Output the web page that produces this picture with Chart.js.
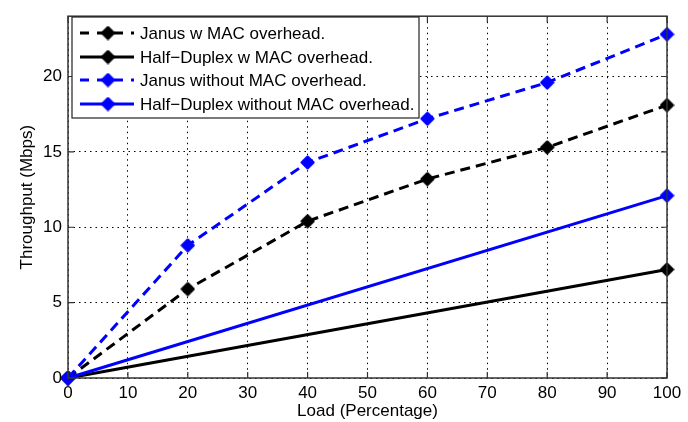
<!DOCTYPE html>
<html>
<head>
<meta charset="utf-8">
<script src="https://cdn.jsdelivr.net/npm/chart.js@4.4.1/dist/chart.umd.min.js"></script>
<style>
  html, body { margin: 0; padding: 0; background: #fff; }
  #wrap { width: 688px; height: 422px; position: relative; }
</style>
</head>
<body>
<div id="wrap"><canvas id="c"></canvas></div>
<script>
const FONT = "Arial, 'Liberation Sans', sans-serif";

// load values (%)
const loadJanus = [0, 20, 40, 60, 80, 100];
const loadHalf = [0, 100];

// throughput (Mbps)
const janusMac = [0, 5.9, 10.4, 13.2, 15.3, 18.1];
const halfMac = [0, 7.2];
const janusNoMac = [0, 8.8, 14.3, 17.2, 19.6, 22.8];
const halfNoMac = [0, 12.1];

const labels = [
  'Janus w MAC overhead.',
  'Half\u2212Duplex w MAC overhead.',
  'Janus without MAC overhead.',
  'Half\u2212Duplex without MAC overhead.',
];

const xTicks = [0, 10, 20, 30, 40, 50, 60, 70, 80, 90, 100];
const yTicks = [0, 5, 10, 15, 20];

const pts = (xs, ys) => xs.map((x, i) => ({ x, y: ys[i] }));

// blunt diamond marker like the matlab one
function marker(color) {
  const c = document.createElement('canvas');
  c.width = 15; c.height = 15;
  const g = c.getContext('2d');
  g.fillStyle = color;
  g.strokeStyle = color;
  g.lineWidth = 3;
  g.lineJoin = 'round';
  g.beginPath();
  g.moveTo(7.5, 2); g.lineTo(13, 7.5); g.lineTo(7.5, 13); g.lineTo(2, 7.5);
  g.closePath();
  g.fill();
  g.stroke();
  return c;
}

function series(label, data, color, dashed, order) {
  return {
    label,
    data,
    borderColor: color,
    backgroundColor: color,
    borderWidth: 3,
    borderDash: dashed ? [10, 6] : [],
    pointStyle: marker(color),
    pointRadius: 7,
    tension: 0,
    clip: false,
    order,
  };
}

// legend box + inward tick marks + frame
const frame = {
  id: 'frame',
  afterDraw(chart) {
    const { ctx, chartArea: a, scales } = chart;
    ctx.save();
    ctx.strokeStyle = '#333';
    ctx.lineWidth = 1.2;
    ctx.beginPath();
    for (const v of xTicks) {
      const px = scales.x.getPixelForValue(v);
      ctx.moveTo(px, a.bottom); ctx.lineTo(px, a.bottom - 6);
      ctx.moveTo(px, a.top); ctx.lineTo(px, a.top + 6);
    }
    for (const v of yTicks) {
      const py = scales.y.getPixelForValue(v);
      ctx.moveTo(a.left, py); ctx.lineTo(a.left + 6, py);
      ctx.moveTo(a.right, py); ctx.lineTo(a.right - 6, py);
    }
    ctx.stroke();
    ctx.lineWidth = 1.5;
    ctx.strokeRect(a.left, a.top, a.right - a.left, a.bottom - a.top);

    // legend
    const bx = 72, by = 17, bw = 347, bh = 101;
    ctx.fillStyle = '#fff';
    ctx.fillRect(bx, by, bw, bh);
    ctx.strokeStyle = '#222';
    ctx.lineWidth = 1.2;
    ctx.strokeRect(bx, by, bw, bh);
    const rows = [33, 57, 80, 104];
    ctx.font = '17px ' + FONT;
    ctx.textBaseline = 'middle';
    chart.data.datasets.forEach((ds, i) => {
      const y = rows[i];
      ctx.strokeStyle = ds.borderColor;
      ctx.lineWidth = ds.borderWidth;
      ctx.setLineDash(ds.borderDash.length ? [9, 8] : []);
      ctx.beginPath();
      ctx.moveTo(80, y); ctx.lineTo(134, y);
      ctx.stroke();
      ctx.setLineDash([]);
      const img = ds.pointStyle;
      ctx.drawImage(img, 108 - img.width / 2, y - img.height / 2);
      ctx.fillStyle = '#000';
      ctx.fillText(ds.label, 140, y + 1);
    });
    ctx.restore();
  },
};

const gridStyle = {
  color: '#000',
  lineWidth: 1,
  drawTicks: false,
};

new Chart(document.getElementById('c'), {
  type: 'line',
  data: {
    datasets: [
      series(labels[0], pts(loadJanus, janusMac), '#000', true, 1),
      series(labels[1], pts(loadHalf, halfMac), '#000', false, 1),
      series(labels[2], pts(loadJanus, janusNoMac), '#0000ff', true, 0),
      series(labels[3], pts(loadHalf, halfNoMac), '#0000ff', false, 0),
    ],
  },
  options: {
    responsive: true,
    maintainAspectRatio: false,
    animation: false,
    layout: { padding: { top: 10, right: 21, left: 0, bottom: 0 } },
    plugins: { legend: { display: false }, tooltip: { enabled: false } },
    scales: {
      x: {
        type: 'linear',
        min: 0,
        max: 100,
        afterBuildTicks: (s) => { s.ticks = xTicks.map((v) => ({ value: v })); },
        afterFit: (s) => { s.height = 44; },
        grid: gridStyle,
        border: { display: false, dash: [1.5, 4] },
        ticks: { color: '#000', padding: 5, maxRotation: 0, font: { family: FONT, size: 17 } },
        title: {
          display: true, text: 'Load (Percentage)', color: '#000',
          font: { family: FONT, size: 17 }, padding: { top: 0, bottom: 0 },
        },
      },
      y: {
        min: 0,
        max: 24,
        afterBuildTicks: (s) => { s.ticks = yTicks.map((v) => ({ value: v })); },
        afterFit: (s) => { s.width = 68; },
        grid: gridStyle,
        border: { display: false, dash: [1.5, 4] },
        ticks: { color: '#000', padding: 6, font: { family: FONT, size: 17 } },
        title: {
          display: true, text: 'Throughput (Mbps)', color: '#000',
          font: { family: FONT, size: 17 }, padding: { top: 17, bottom: 0 },
        },
      },
    },
  },
  plugins: [frame],
});
</script>
</body>
</html>
